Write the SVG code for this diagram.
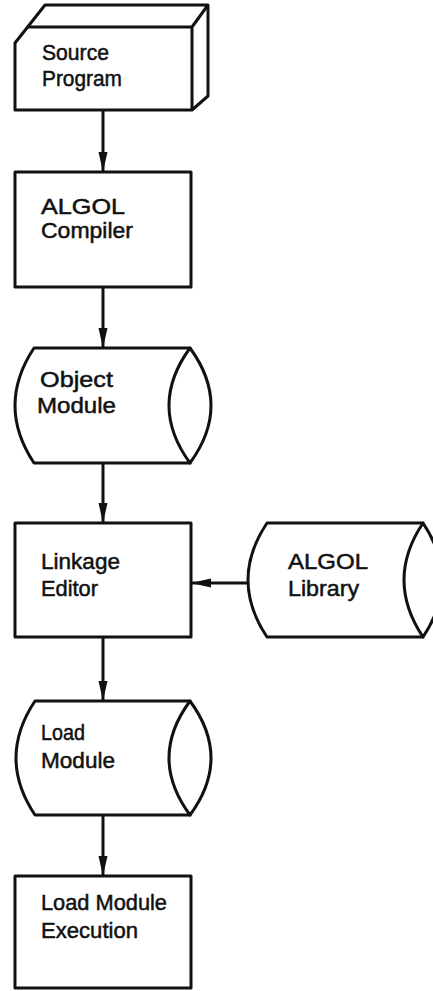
<svg xmlns="http://www.w3.org/2000/svg" width="433" height="991" viewBox="0 0 433 991">
<defs>
<style>
.s{fill:#fff;stroke:#111;stroke-width:3;stroke-linejoin:round}
.l{fill:none;stroke:#111;stroke-width:3;stroke-linejoin:round}
.c{stroke:#111;stroke-width:3;fill:none}
text{font-family:"Liberation Sans",Arial,sans-serif;fill:#111;stroke:#111;stroke-width:0.5;font-size:22.5px}
</style>
<marker id="ah" markerUnits="userSpaceOnUse" markerWidth="20" markerHeight="10" refX="20" refY="5" orient="auto">
<path d="M0,0.5 L20,5 L0,9.5 Z" fill="#111"/>
</marker>
</defs>
<rect width="433" height="991" fill="#fff"/>
<g id="connectors">
<line class="c" x1="103" y1="110" x2="103" y2="172" marker-end="url(#ah)"/>
<line class="c" x1="103" y1="287" x2="103" y2="348" marker-end="url(#ah)"/>
<line class="c" x1="103" y1="463" x2="103" y2="523" marker-end="url(#ah)"/>
<line class="c" x1="103" y1="637" x2="103" y2="701" marker-end="url(#ah)"/>
<line class="c" x1="103" y1="815" x2="103" y2="876" marker-end="url(#ah)"/>
<line class="c" x1="248" y1="583" x2="191" y2="583" marker-end="url(#ah)"/>
</g>
<g id="source-program">
<path class="s" d="M15,43 L45,5 L208,5 L208,96 L192,110 L15,110 Z"/>
<path class="l" d="M27,27 L192,27 L192,110 M192,27 L208,5"/>
<text x="42" y="59.5" textLength="67" lengthAdjust="spacingAndGlyphs">Source</text>
<text x="42" y="86" textLength="80" lengthAdjust="spacingAndGlyphs">Program</text>
</g>
<g id="algol-compiler">
<rect class="s" x="15" y="172" width="176" height="115"/>
<text x="41" y="213.5" textLength="84" lengthAdjust="spacingAndGlyphs">ALGOL</text>
<text x="41" y="238" textLength="92" lengthAdjust="spacingAndGlyphs">Compiler</text>
</g>
<g id="object-module">
<path class="s" d="M34,348 L190,348 L190,463 L34,463 Q-4,405.5 34,348 Z"/>
<path class="s" d="M190,348 Q232,405.5 190,463 Q148,405.5 190,348 Z"/>
<text x="40" y="387" textLength="73" lengthAdjust="spacingAndGlyphs">Object</text>
<text x="37" y="413" textLength="79" lengthAdjust="spacingAndGlyphs">Module</text>
</g>
<g id="linkage-editor">
<rect class="s" x="15" y="523" width="176" height="114"/>
<text x="41" y="568.5" textLength="79" lengthAdjust="spacingAndGlyphs">Linkage</text>
<text x="41" y="596" textLength="57" lengthAdjust="spacingAndGlyphs">Editor</text>
</g>
<g id="algol-library">
<path class="s" d="M267,523 L423,523 L423,637 L267,637 Q229,580 267,523 Z"/>
<path class="s" d="M423,523 Q461,580 423,637 Q385,580 423,523 Z"/>
<text x="288" y="568.5" textLength="80" lengthAdjust="spacingAndGlyphs">ALGOL</text>
<text x="288" y="596" textLength="71" lengthAdjust="spacingAndGlyphs">Library</text>
</g>
<g id="load-module">
<path class="s" d="M35,701 L190,701 L190,815 L35,815 Q-3,758 35,701 Z"/>
<path class="s" d="M190,701 Q232,758 190,815 Q148,758 190,701 Z"/>
<text x="41" y="740" textLength="44" lengthAdjust="spacingAndGlyphs">Load</text>
<text x="41" y="767.5" textLength="74" lengthAdjust="spacingAndGlyphs">Module</text>
</g>
<g id="load-module-execution">
<rect class="s" x="15" y="876" width="176" height="112"/>
<text x="41" y="910" textLength="126" lengthAdjust="spacingAndGlyphs">Load Module</text>
<text x="41" y="938" textLength="97" lengthAdjust="spacingAndGlyphs">Execution</text>
</g>
</svg>
